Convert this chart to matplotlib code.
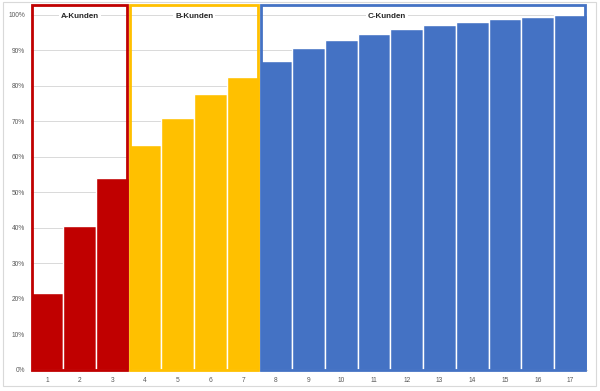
import numpy as np
import matplotlib.pyplot as plt
from matplotlib.patches import Rectangle

plt.rcParams['font.family'] = ['Liberation Sans', 'DejaVu Sans']

kunden = list(range(1, 18))
anteil = [0.216, 0.404, 0.540, 0.633, 0.710, 0.777, 0.826, 0.870, 0.906,
          0.928, 0.946, 0.960, 0.971, 0.980, 0.989, 0.995, 1.000]
gruppen = ['A-Kunden', 'B-Kunden', 'C-Kunden']
gruppe_von = [1, 4, 8]
gruppe_bis = [3, 7, 17]
label_x = [2, 5.5, 11.4]
farben = ['#C00000', '#FFC000', '#4472C4']
rahmen_hoehe = 1.027

fig = plt.figure(figsize=(6, 3.91), dpi=100)
ax = fig.add_axes([0.051, 0.054, 0.927, 0.94])

# farbe je kunde nach gruppe
bar_farben = []
for k in kunden:
    for g in range(len(gruppen)):
        if gruppe_von[g] <= k <= gruppe_bis[g]:
            bar_farben.append(farben[g])

ax.bar(kunden, anteil, width=1.0, color=bar_farben, edgecolor='white',
       linewidth=1.0, zorder=3)

# rahmen um die gruppen
for g in range(len(gruppen)):
    mitte = (gruppe_von[g] + gruppe_bis[g]) / 2
    breite = gruppe_bis[g] - gruppe_von[g] + 1
    ax.bar(mitte, rahmen_hoehe, width=breite - 0.09, fill=False,
           edgecolor=farben[g], linewidth=2.0, zorder=4, clip_on=False)
    ax.text(label_x[g], 0.995, gruppen[g], ha='center', va='center',
            fontsize=5.8, fontweight='bold', color='#262626', zorder=5,
            bbox=dict(facecolor='white', edgecolor='none', pad=1.5))

ax.set_xlim(0.5, 17.5)
ax.set_ylim(0, 1.035)
ax.set_yticks(np.arange(0, 1.01, 0.1))
ax.set_yticklabels([f'{int(round(v * 100))}%' for v in np.arange(0, 1.01, 0.1)])
ax.set_xticks(kunden)
ax.tick_params(axis='both', length=0, labelsize=4.8, colors='#595959')
ax.tick_params(axis='y', pad=4)
ax.tick_params(axis='x', pad=5)
ax.grid(axis='y', color='#D9D9D9', linewidth=0.7, zorder=0)
ax.set_axisbelow(True)
for s in ['top', 'right', 'left']:
    ax.spines[s].set_visible(False)
ax.spines['bottom'].set_color('#D9D9D9')

fig.patches.append(Rectangle((0.005, 0.012), 0.988, 0.982, transform=fig.transFigure,
                             fill=False, edgecolor='#D9D9D9', linewidth=0.8))

fig.savefig('out.png', dpi=100)
